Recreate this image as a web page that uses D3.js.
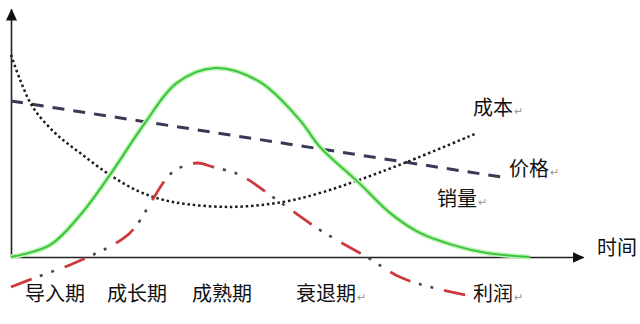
<!DOCTYPE html>
<html>
<head>
<meta charset="utf-8">
<script src="https://cdn.jsdelivr.net/npm/d3@7"></script>
<style>
  body { margin: 0; background: #fff; }
  text { font-family: "Noto Sans CJK SC", "Noto Sans", sans-serif; }
</style>
</head>
<body>
<div id="plc"></div>
<script>
// product life cycle
// x: time 0..100, y: level 0..100 (profit goes below 0)
var stages = ['导入期', '成长期', '成熟期', '衰退期']

var sales = [[0, 0], [6.8, 4.8], [12.1, 16.9], [17.3, 33.1], [23.4, 54.0], [29.0, 70.2],
  [35.7, 76.2], [43.5, 70.6], [50.5, 55.2], [54.0, 44.4], [60.7, 30.2], [66.3, 17.7],
  [71.5, 9.7], [77.3, 4.8], [83.2, 1.6], [90.7, 0]]

var cost = [[0, 81.5], [1.6, 71.4], [3.8, 60.5], [7.7, 50.0], [12.1, 41.9], [17.3, 33.1],
  [22.6, 26.2], [28.3, 22.2], [38.3, 20.2], [47.6, 22.2], [54.0, 25.8], [59.8, 30.2],
  [69.2, 38.3], [81.5, 50.0]]

var price = [[0, 62.9], [86.7, 31.9]]

var profit = [[0, -12.1], [4.5, -8.1], [10.3, -3.2], [15.0, 1.6], [17.8, 4.8], [20.8, 9.7],
  [22.6, 14.9], [24.7, 23.0], [28.3, 34.3], [32.5, 37.9], [35.3, 36.3], [40.0, 33.1],
  [46.5, 23.0], [54.0, 10.9], [62.2, 0], [68.0, -8.1], [73.3, -12.1], [79.4, -15.3]]

var width = 640
var height = 324

var svg = d3
  .select('#plc')
  .append('svg')
  .attr('width', width)
  .attr('height', height)

var x = d3.scaleLinear().domain([0, 100]).range([11, 583])
var y = d3.scaleLinear().domain([0, 100]).range([257, 9])

var line = d3
  .line()
  .x(d => x(d[0]))
  .y(d => y(d[1]))
  .curve(d3.curveCatmullRom.alpha(0.5))

// arrow head
svg
  .append('defs')
  .append('marker')
  .attr('id', 'arrow')
  .attr('markerUnits', 'userSpaceOnUse')
  .attr('markerWidth', 12)
  .attr('markerHeight', 11)
  .attr('viewBox', '0 0 12 11')
  .attr('refX', 11)
  .attr('refY', 5.5)
  .attr('orient', 'auto')
  .append('path')
  .attr('d', 'M0,0L12,5.5L0,11Z')
  .attr('fill', '#111')

// axes, no ticks
svg
  .append('g')
  .attr('transform', 'translate(0,' + y(0) + ')')
  .call(d3.axisBottom(x).tickValues([]).tickSizeOuter(0))
svg
  .append('g')
  .attr('transform', 'translate(' + x(0) + ',0)')
  .call(d3.axisLeft(y).tickValues([]).tickSizeOuter(0))

svg.selectAll('.domain')
  .attr('stroke', '#222')
  .attr('stroke-width', 1.6)
  .attr('marker-end', 'url(#arrow)')

// price
svg.append('path')
  .datum(price)
  .attr('d', line)
  .attr('fill', 'none')
  .attr('stroke', '#363a55')
  .attr('stroke-width', 3)
  .attr('stroke-dasharray', '12,9')

// cost
svg.append('path')
  .datum(cost)
  .attr('d', line)
  .attr('fill', 'none')
  .attr('stroke', '#1c1c1c')
  .attr('stroke-width', 2.5)
  .attr('stroke-dasharray', '2.5,2.8')

// sales, with a soft glow
svg.append('path')
  .datum(sales)
  .attr('d', line)
  .attr('fill', 'none')
  .attr('stroke', '#bff3b7')
  .attr('stroke-width', 5)
svg.append('path')
  .datum(sales)
  .attr('d', line)
  .attr('fill', 'none')
  .attr('stroke', '#3cc43c')
  .attr('stroke-width', 2)

// profit: red dashes, dark dots
svg.append('path')
  .datum(profit)
  .attr('d', line)
  .attr('fill', 'none')
  .attr('stroke', '#cc3a3e')
  .attr('stroke-width', 2.8)
  .attr('stroke-dasharray', '22,35')
svg.append('path')
  .datum(profit)
  .attr('d', line)
  .attr('fill', 'none')
  .attr('stroke', '#4a4a4a')
  .attr('stroke-width', 2.6)
  .attr('stroke-dasharray', '0,31,3,9,3,11')

// labels
function label (txt, lx, ly, mark) {
  var t = svg.append('text')
    .attr('x', lx)
    .attr('y', ly)
    .attr('font-size', 20)
    .attr('fill', '#111')
    .text(txt)
  if (mark) {
    t.append('tspan')
      .attr('font-size', 11)
      .attr('fill', '#9a9a9a')
      .attr('dx', 1)
      .text('↵')
  }
}

var stageX = [25, 107, 192, 296]
stages.forEach((s, i) => label(s, stageX[i], 301, i === 3))

label('利润', 473, 301, true)
label('成本', 473, 115, true)
label('价格', 509, 176, true)
label('销量', 437, 206, true)
label('时间', 597, 255, false)
</script>
</body>
</html>
